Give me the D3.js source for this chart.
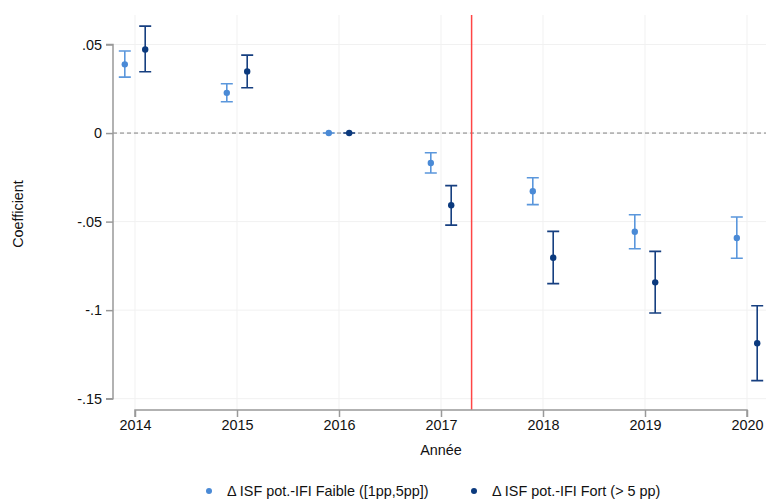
<!DOCTYPE html>
<html>
<head>
<meta charset="utf-8">
<script src="https://cdn.jsdelivr.net/npm/d3@7"></script>
<style>
  body { margin: 0; background: #fff; }
  text { font-family: "Liberation Sans", Arial, sans-serif; fill: #111; }
</style>
</head>
<body>
<svg></svg>
<script>
const years = [2014, 2015, 2016, 2017, 2018, 2019, 2020];
const yTicks = [0.05, 0, -0.05, -0.1, -0.15];

// Δ ISF pot.-IFI Faible ([1pp,5pp])
const faibleCoef = [0.0388, 0.0227, 0, -0.0169, -0.0329, -0.0557, -0.0593];
const faibleLow = [0.0316, 0.0177, 0, -0.0226, -0.0404, -0.0653, -0.0707];
const faibleHigh = [0.0463, 0.0278, 0, -0.0111, -0.0252, -0.0461, -0.0474];

// Δ ISF pot.-IFI Fort (> 5 pp)
const fortCoef = [0.0472, 0.0348, 0, -0.0408, -0.0704, -0.0843, -0.1187];
const fortLow = [0.0346, 0.0256, 0, -0.052, -0.085, -0.1016, -0.1398];
const fortHigh = [0.0604, 0.044, 0, -0.0297, -0.0555, -0.0668, -0.0975];

const reformYear = 2017.3;

const width = 766,
  height = 499,
  fontSize = 14.4;

const svg = d3.select("svg").attr("width", width).attr("height", height);

const x = d3.scaleLinear().domain([2014, 2020]).range([135, 747]);
const y = d3.scaleLinear().domain([0.05, -0.15]).range([44.5, 398.7]);

const plotTop = 15,
  plotBottom = 410,
  plotLeft = 113,
  plotRight = 766;

const series = [
  { name: "Δ ISF pot.-IFI Faible ([1pp,5pp])", coef: faibleCoef, low: faibleLow, high: faibleHigh, shift: -0.1, color: "#4a8ad6", ci: "#5b97dc" },
  { name: "Δ ISF pot.-IFI Fort (> 5 pp)", coef: fortCoef, low: fortLow, high: fortHigh, shift: 0.1, color: "#0b3a7e", ci: "#163f80" },
];

// grid
svg
  .append("g")
  .selectAll("line")
  .data(yTicks)
  .enter()
  .append("line")
  .attr("x1", plotLeft)
  .attr("x2", plotRight)
  .attr("y1", (d) => y(d))
  .attr("y2", (d) => y(d))
  .attr("stroke", "#f1f1f1")
  .attr("stroke-width", 1);

svg
  .append("g")
  .selectAll("line")
  .data(years)
  .enter()
  .append("line")
  .attr("x1", (d) => x(d))
  .attr("x2", (d) => x(d))
  .attr("y1", plotTop)
  .attr("y2", plotBottom)
  .attr("stroke", "#f1f1f1")
  .attr("stroke-width", 1);

// zero line
svg
  .append("line")
  .attr("x1", plotLeft)
  .attr("x2", plotRight)
  .attr("y1", y(0))
  .attr("y2", y(0))
  .attr("stroke", "#808080")
  .attr("stroke-width", 1)
  .attr("stroke-dasharray", "4,3");

// reform line
svg
  .append("line")
  .attr("x1", x(reformYear))
  .attr("x2", x(reformYear))
  .attr("y1", plotTop)
  .attr("y2", plotBottom)
  .attr("stroke", "#ff4545")
  .attr("stroke-width", 1.5);

// axes
const yAxis = d3
  .axisLeft(y)
  .tickValues(yTicks)
  .tickSize(7)
  .tickPadding(4)
  .tickFormat((d) => (d === 0 ? "0" : String(d).replace("0.", ".")));

const gy = svg.append("g").attr("transform", `translate(${plotLeft},0)`).call(yAxis);
const gx = svg
  .append("g")
  .attr("transform", `translate(0,${plotBottom})`)
  .call(d3.axisBottom(x).tickValues(years).tickSize(7).tickPadding(3).tickFormat(d3.format("d")));

[gy, gx].forEach((g) => {
  g.select(".domain").attr("stroke", "#999").attr("stroke-width", 1.5);
  g.selectAll(".tick line").attr("stroke", "#999").attr("stroke-width", 1.5);
  g.selectAll(".tick text").attr("font-size", fontSize).attr("fill", "#111");
});
gy.select(".domain").attr("d", `M-7,${y(0.05)}H0V${y(-0.15)}H-7`);
gx.select(".domain").attr("d", `M${x(2014)},7V0H${x(2020)}V7`);

// error bars and points
series.forEach((s) => {
  const g = svg.append("g");
  const idx = d3.range(years.length);
  const cap = 6;
  g.selectAll(".ci")
    .data(idx)
    .enter()
    .append("path")
    .attr("d", (i) => {
      const cx = x(years[i] + s.shift);
      const y1 = y(s.high[i]),
        y2 = y(s.low[i]);
      return `M${cx - cap},${y1}H${cx + cap}M${cx},${y1}V${y2}M${cx - cap},${y2}H${cx + cap}`;
    })
    .attr("fill", "none")
    .attr("stroke", s.ci)
    .attr("stroke-width", 1.6);
  g.selectAll("circle")
    .data(idx)
    .enter()
    .append("circle")
    .attr("cx", (i) => x(years[i] + s.shift))
    .attr("cy", (i) => y(s.coef[i]))
    .attr("r", 3.2)
    .attr("fill", s.color);
});

// axis titles
svg
  .append("text")
  .attr("transform", "translate(23,214) rotate(-90)")
  .attr("text-anchor", "middle")
  .attr("font-size", fontSize)
  .text("Coefficient");

svg
  .append("text")
  .attr("x", 441)
  .attr("y", 455)
  .attr("text-anchor", "middle")
  .attr("font-size", fontSize)
  .text("Année");

// legend
const legendX = [209, 474];
const legend = svg
  .append("g")
  .selectAll("g")
  .data(series)
  .enter()
  .append("g")
  .attr("transform", (d, i) => `translate(${legendX[i]},491)`);

legend.append("circle").attr("r", 3).attr("fill", (d) => d.color);

legend
  .append("text")
  .attr("x", 18)
  .attr("y", 5)
  .attr("font-size", fontSize)
  .text((d) => d.name);
</script>
</body>
</html>
